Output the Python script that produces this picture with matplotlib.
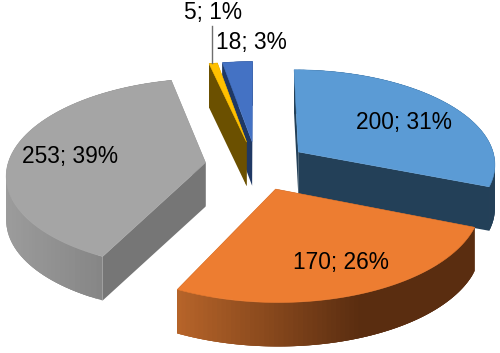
import numpy as np
import matplotlib
matplotlib.use('Agg')
import matplotlib.pyplot as plt
from matplotlib.colors import to_rgb
from matplotlib.patches import Polygon

plt.rcParams['font.family'] = ['Liberation Sans', 'DejaVu Sans']

values = [200, 170, 253, 5, 18]
top_colors = ['#5B9BD5', '#ED7D31', '#A5A5A5', '#FFC000', '#4472C4']
face_colors = ['#234058', '#5E3012', '#767676', '#6B5000', '#1F3864']
# side gradient, left end and right end of the outer rim
rim_left = ['#234058', '#B8652A', '#9C9C9C', '#6B5000', '#1F3864']
rim_right = ['#234058', '#5A2D10', '#858585', '#6B5000', '#1F3864']

# projection of the tilted pie, all in pixels
cx, cy = 256.5, 165.5
rx, ry = 198, 94.5
persp = 0.115
explode = 0.26
depth = 44

total = sum(values)


def project(u, v):
    w = 1 + persp * v
    return cx + rx * u / w, cy - ry * v / w


def slice_outline(a0, a1, ex, ey):
    # angles clockwise from 12 o'clock
    t = np.linspace(a0, a1, 80)
    u = ex + np.sin(t)
    v = ey + np.cos(t)
    return project(u, v)


def quad(ax, x0, y0, x1, y1, color, z):
    pts = [(x0, y0), (x1, y1), (x1, y1 + depth), (x0, y0 + depth)]
    ax.add_patch(Polygon(pts, closed=True, fc=color, ec='none', zorder=z))


fig = plt.figure(figsize=(5, 3.53), dpi=100)
ax = fig.add_axes([0, 0, 1, 1])
ax.set_xlim(0, 500)
ax.set_ylim(353, 0)
ax.axis('off')

edges = np.cumsum([0] + values) / total * 2 * np.pi
# back slices first, orange goes on top of the blue side
order = [4, 3, 0, 2, 1]
for n, i in enumerate(order):
    a0, a1 = edges[i], edges[i + 1]
    mid = (a0 + a1) / 2
    ex, ey = explode * np.sin(mid), explode * np.cos(mid)
    ax_, ay_ = project(ex, ey)
    x, y = slice_outline(a0, a1, ex, ey)
    z = 10 + n * 3

    # radial faces
    quad(ax, ax_, ay_, x[0], y[0], face_colors[i], z)
    quad(ax, ax_, ay_, x[-1], y[-1], face_colors[i], z)

    # outer rim, strips overlap the next one so no seams show
    c0, c1 = np.array(to_rgb(rim_left[i])), np.array(to_rgb(rim_right[i]))
    span = max(x.max() - x.min(), 1)
    for j in range(len(x) - 1):
        f = min((x[j] - x.min()) / (span * 0.62), 1)
        k = min(j + 3, len(x) - 1)
        quad(ax, x[j], y[j], x[k], y[k], tuple(c0 + (c1 - c0) * f), z + 1)

    ax.add_patch(Polygon(np.column_stack([np.r_[ax_, x], np.r_[ay_, y]]), closed=True,
                         fc=top_colors[i], ec=top_colors[i], lw=0.4, zorder=z + 2))

labels = ['%d; %d%%' % (v, round(v / total * 100)) for v in values]
label_x = [404, 341, 70, 213, 251]
label_y = [122, 263, 157, 13, 43]
for s, lx, ly in zip(labels, label_x, label_y):
    ax.text(lx, ly, s, fontsize=16.4, color='black', ha='center', va='center', zorder=50)

# leader line for the small slice
ax.plot([211.5, 211.5], [26, 63], color='#6E6E6E', lw=1, zorder=50)

fig.savefig('out.png', dpi=100)
